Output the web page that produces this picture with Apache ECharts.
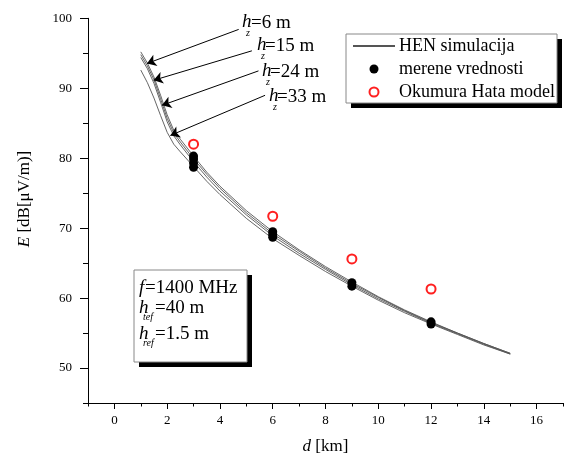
<!DOCTYPE html>
<html>
<head>
<meta charset="utf-8">
<script src="https://cdn.jsdelivr.net/npm/echarts@6/dist/echarts.min.js"></script>
<style>
html,body{margin:0;padding:0;background:#fff;}
#chart{width:564px;height:464px;}
</style>
</head>
<body>
<div id="chart"></div>
<script>
// ---- data ----
const dist  = [1, 1.25, 1.5, 1.75, 2, 2.25, 2.5, 3, 3.5, 4, 5, 6, 7, 8, 9, 10, 11, 12, 13, 14, 15];
const hen6  = [95.2, 93.6, 91.6, 89.0, 86.2, 84.0, 82.7, 80.3, 78.0, 76.0, 72.5, 69.5, 66.9, 64.5, 62.3, 60.2, 58.3, 56.6, 55.0, 53.5, 52.1];
const hen15 = [94.8, 93.2, 91.2, 88.5, 85.7, 83.6, 82.3, 79.9, 77.7, 75.7, 72.2, 69.2, 66.7, 64.3, 62.1, 60.1, 58.2, 56.5, 55.0, 53.5, 52.1];
const hen24 = [94.4, 92.8, 90.7, 88.0, 85.2, 83.2, 81.9, 79.5, 77.3, 75.3, 71.9, 68.9, 66.4, 64.1, 61.9, 59.9, 58.1, 56.4, 54.9, 53.4, 52.0];
const hen33 = [92.6, 90.8, 88.6, 86.1, 83.7, 82.0, 80.9, 78.8, 76.7, 74.8, 71.4, 68.5, 66.1, 63.8, 61.7, 59.7, 57.9, 56.3, 54.8, 53.3, 52.0];
const measD = [3, 3, 3, 3, 6, 6, 6, 9, 9, 12, 12];
const measE = [80.3, 79.9, 79.3, 78.7, 69.5, 69.1, 68.7, 62.2, 61.7, 56.6, 56.3];
const okD   = [3, 6, 9, 12];
const okE   = [82.0, 71.7, 65.6, 61.3];
const xMajor = [0, 2, 4, 6, 8, 10, 12, 14, 16];
const yMajor = [50, 60, 70, 80, 90, 100];
const legendNames = ['HEN simulacija', 'merene vrednosti', 'Okumura Hata model'];

const FF = 'Liberation Serif';
const zip = (a, b) => a.map((v, i) => [v, b[i]]);

const chart = echarts.init(document.getElementById('chart'), null, {renderer: 'canvas'});

function henSeries(arr) {
  return {
    name: legendNames[0], type: 'line', data: zip(dist, arr),
    symbol: 'none', showSymbol: false, smooth: false,
    lineStyle: {color: '#555', width: 0.9}, itemStyle: {color: '#555'},
    z: 2, silent: true, xAxisIndex: 0, yAxisIndex: 0
  };
}

const arrowStyle = {color: '#000', width: 1, type: 'solid'};

function txt(x, y, text, size, italic, extra) {
  return Object.assign({
    type: 'text', x: x, y: y, z: 10,
    style: {text: text, fill: '#000', font: (italic ? 'italic ' : '') + size + 'px "' + FF + '"',
            align: 'left', verticalAlign: 'middle'}
  }, extra || {});
}

const graphics = [
  // legend box + shadow
  {type: 'rect', shape: {x: 351, y: 39, width: 211, height: 69}, style: {fill: '#000'}, z: 0},
  {type: 'rect', shape: {x: 346, y: 34, width: 211, height: 69}, style: {fill: '#fff', stroke: '#888', lineWidth: 1}, z: 1},
  // parameter box + shadow
  {type: 'rect', shape: {x: 139, y: 275, width: 113, height: 92}, style: {fill: '#000'}, z: 0},
  {type: 'rect', shape: {x: 134, y: 270, width: 113, height: 92}, style: {fill: '#fff', stroke: '#888', lineWidth: 1}, z: 1},
  // parameter box text
  txt(139, 288, 'f', 19, true),
  txt(145, 288, '=1400 MHz', 19, false),
  txt(139, 308, 'h', 19, true),
  txt(143, 317, 'tef', 10, true),
  txt(155, 308, '=40 m', 19, false),
  txt(139, 334, 'h', 19, true),
  txt(143, 343, 'ref', 10, true),
  txt(155, 334, '=1.5 m', 19, false),
  // annotation labels
  txt(242, 22, 'h', 19, true), txt(246, 33, 'z', 10, true), txt(251, 23, '=6 m', 19, false),
  txt(257, 45, 'h', 19, true), txt(261, 56, 'z', 10, true), txt(265, 46, '=15 m', 19, false),
  txt(262, 71, 'h', 19, true), txt(266, 82, 'z', 10, true), txt(270, 72, '=24 m', 19, false),
  txt(269, 96, 'h', 19, true), txt(273, 107, 'z', 10, true), txt(277, 97, '=33 m', 19, false),
  // y axis name
  {type: 'text', x: 25, y: 199, rotation: Math.PI / 2, z: 10,
   style: {text: '{i|E} [dB[μV/m)]', fill: '#000', font: '17px "' + FF + '"', align: 'center', verticalAlign: 'middle',
           rich: {i: {fontStyle: 'italic', fontSize: 17, fontFamily: FF, fill: '#000'}}}}
];

const option = {
  animation: false,
  backgroundColor: '#fff',
  grid: {left: 88, top: 18.3, width: 475, height: 384.7, containLabel: false},
  legend: {
    data: [
      {name: legendNames[0], itemStyle: {opacity: 0}},
      {name: legendNames[1]},
      {name: legendNames[2]}
    ],
    orient: 'vertical', left: 352, top: 34.5, padding: 0,
    itemWidth: 42, itemHeight: 9, itemGap: 0, selectedMode: false,
    textStyle: {fontFamily: FF, fontSize: 18, color: '#000', lineHeight: 23, padding: [0, 0, 0, -1]},
    z: 20
  },
  xAxis: [
    {
      type: 'value', min: -1, max: 17, interval: 1, position: 'bottom',
      axisLine: {show: true, onZero: false, lineStyle: {color: '#000', width: 1}},
      axisTick: {show: true, inside: false, length: 6, customValues: xMajor, lineStyle: {color: '#000'}},
      axisLabel: {show: true, customValues: xMajor, margin: 11, fontFamily: FF, fontSize: 13, color: '#000',
                  formatter: v => (v % 2 === 0 ? String(v) : '')},
      splitLine: {show: false},
      name: '{i|d} [km]', nameLocation: 'middle', nameGap: 35,
      nameTextStyle: {fontFamily: FF, fontSize: 17, color: '#000',
                      rich: {i: {fontStyle: 'italic', fontFamily: FF, fontSize: 17, color: '#000'}}}
    },
    {
      type: 'value', min: -1, max: 17, interval: 1, position: 'bottom',
      axisLine: {show: false, onZero: false},
      axisTick: {show: true, inside: false, length: 3.5, lineStyle: {color: '#000'}},
      axisLabel: {show: false}, splitLine: {show: false}
    }
  ],
  yAxis: [
    {
      type: 'value', min: 45, max: 100, interval: 5, position: 'left',
      axisLine: {show: true, onZero: false, lineStyle: {color: '#000', width: 1}},
      axisTick: {show: true, inside: false, length: 8, customValues: yMajor, lineStyle: {color: '#000'}},
      axisLabel: {show: true, customValues: yMajor, margin: 16, fontFamily: FF, fontSize: 13, color: '#000',
                  formatter: v => (v % 10 === 0 ? String(v) : '')},
      splitLine: {show: false}
    },
    {
      type: 'value', min: 45, max: 100, interval: 5, position: 'left',
      axisLine: {show: false, onZero: false},
      axisTick: {show: true, inside: false, length: 5, lineStyle: {color: '#000'}},
      axisLabel: {show: false}, splitLine: {show: false}
    }
  ],
  graphic: graphics,
  series: [
    henSeries(hen6), henSeries(hen15), henSeries(hen24), henSeries(hen33),
    {
      name: legendNames[1], type: 'scatter', data: zip(measD, measE),
      symbol: 'circle', symbolSize: 9, itemStyle: {color: '#000', opacity: 1}, z: 4, silent: true
    },
    {
      name: legendNames[2], type: 'scatter', data: zip(okD, okE),
      symbol: 'emptyCircle', symbolSize: 9,
      itemStyle: {color: '#ff2020', borderWidth: 1, opacity: 1}, z: 4, silent: true,
      markLine: {
        silent: true, animation: false,
        symbol: ['none', 'arrow'], symbolSize: 9,
        label: {show: false}, emphasis: {disabled: true},
        lineStyle: arrowStyle,
        data: [
          [{coord: [4.71, 98.41]}, {coord: [1.235, 93.54]}],
          [{coord: [5.21, 95.35]}, {coord: [1.487, 91.14]}],
          [{coord: [5.46, 92.48]}, {coord: [1.805, 87.56]}],
          [{coord: [5.71, 88.99]}, {coord: [2.121, 83.25]}]
        ]
      }
    }
  ]
};

chart.setOption(option);
</script>
</body>
</html>
